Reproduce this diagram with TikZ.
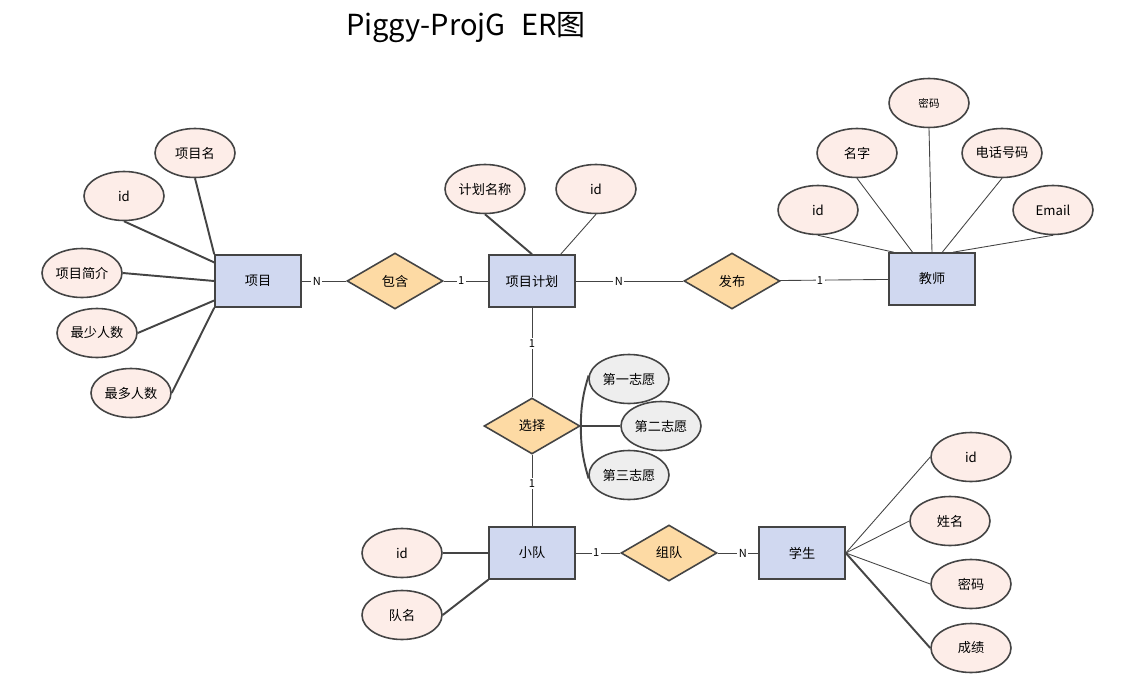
\documentclass[tikz,border=0pt]{standalone}
\usepackage{fontspec}
\setmainfont{Noto Sans CJK SC}
\usetikzlibrary{shapes.geometric}
\definecolor{entfill}{HTML}{D0D8F0}
\definecolor{relfill}{HTML}{FDDAA4}
\definecolor{attfill}{HTML}{FDEDE8}
\definecolor{chfill}{HTML}{EEEEEE}
\definecolor{linecol}{HTML}{444444}
\tikzset{
  ent/.style={rectangle,draw=linecol,line width=0.9pt,fill=entfill,minimum width=1.72cm,minimum height=1.04cm,inner sep=0pt,font=\fontsize{7.5}{9}\selectfont},
  rel/.style={diamond,draw=linecol,line width=0.9pt,fill=relfill,aspect=1.7,minimum width=1.92cm,minimum height=1.12cm,inner sep=0pt,font=\fontsize{7.5}{9}\selectfont},
  att/.style={ellipse,draw=linecol,line width=0.9pt,fill=attfill,minimum width=1.6cm,minimum height=0.98cm,inner sep=0pt,font=\fontsize{7.5}{9}\selectfont},
  choice/.style={att,fill=chfill},
  card/.style={fill=white,inner sep=0.8pt,font=\fontsize{6.3}{7}\selectfont},
  lnk/.style={draw=linecol,line width=0.5pt},
  thk/.style={draw=linecol,line width=1.1pt}
}

\begin{document}
\begin{tikzpicture}[x=0.02cm,y=-0.02cm]
    \useasboundingbox (0,0) rectangle (1134,683);
    \node (title) at (466,28) {\fontsize{16.5}{20}\selectfont Piggy-ProjG\hspace{0.55em}ER图};

    \node[ent] (xm) at (258,281) {项目};
    \node[ent] (plan) at (532,281) {项目计划};
    \node[ent] (js) at (932,279) {教师};
    \node[ent] (td) at (532,553) {小队};
    \node[ent] (xs) at (802,553) {学生};

    \node[rel] (hb) at (395,281) {包含};
    \node[rel] (fb) at (732,281) {发布};
    \node[rel] (xz) at (532,426) {选择};
    \node[rel] (zd) at (669,553) {组队};

    \node[att] (xmName) at (195,153) {项目名};
    \node[att] (xmId) at (124,196) {id};
    \node[att] (xmInfo) at (82,273) {项目简介};
    \node[att] (xmMin) at (97,333) {最少人数};
    \node[att] (xmMax) at (131,393) {最多人数};
    \node[att] (planName) at (485,189) {计划名称};
    \node[att] (planId) at (596,189) {id};
    \node[att,font=\fontsize{6}{7}\selectfont] (jsPwd) at (929,103) {密码};
    \node[att] (jsName) at (857,153) {名字};
    \node[att] (jsTel) at (1002,153) {电话号码};
    \node[att] (jsId) at (818,210) {id};
    \node[att] (jsMail) at (1053,210) {Email};
    \node[choice] (c1) at (629,379) {第一志愿};
    \node[choice] (c2) at (661,426) {第二志愿};
    \node[choice] (c3) at (629,475) {第三志愿};
    \node[att] (tdId) at (402,553) {id};
    \node[att] (tdName) at (402,615) {队名};
    \node[att] (xsId) at (971,457) {id};
    \node[att] (xsName) at (950,521) {姓名};
    \node[att] (xsPwd) at (971,584) {密码};
    \node[att] (xsScore) at (971,648) {成绩};

    \draw[thk] (xmName.south) -- (xm.north west);
    \draw[thk] (xmId.south) -- (xm.157);
    \draw[thk] (xmInfo.east) -- (xm.west);
    \draw[thk] (xmMin.east) -- (xm.204);
    \draw[thk] (xmMax.east) -- (xm.south west);
    \draw[thk] (planName.south) -- (plan.north);
    \draw[lnk] (planId.south) -- (plan.43);
    \draw[lnk] (jsId.south) -- (js.145);
    \draw[lnk] (jsName.south) -- (js.126);
    \draw[lnk] (jsPwd.south) -- (js.north);
    \draw[lnk] (jsTel.south) -- (js.69);
    \draw[lnk] (jsMail.south) -- (js.52);
    \draw[thk] (xz.east) to[bend left=8] (c1.175);
    \draw[thk] (xz.east) -- (c2.west);
    \draw[thk] (xz.east) to[bend right=8] (c3.185);
    \draw[thk] (tdId.east) -- (td.west);
    \draw[thk] (tdName.east) -- (td.south west);
    \draw[lnk] (xs.east) -- (xsId.west);
    \draw[lnk] (xs.east) -- (xsName.west);
    \draw[lnk] (xs.east) -- (xsPwd.west);
    \draw[thk] (xs.east) -- (xsScore.west);

    \draw[lnk] (xm) -- node[card,pos=.34] {N} (hb);
    \draw[lnk] (hb) -- node[card,pos=.39] {1} (plan);
    \draw[lnk] (plan) -- node[card,pos=.4] {N} (fb);
    \draw[lnk] (fb) -- node[card,pos=.37] {1} (js);
    \draw[lnk] (plan) -- node[card,pos=.4] {1} (xz);
    \draw[lnk] (xz) -- node[card,pos=.4] {1} (td);
    \draw[lnk] (td) -- node[card,pos=.46] {1} (zd);
    \draw[lnk] (zd) -- node[card,pos=.62] {N} (xs);
\end{tikzpicture}
\end{document}
